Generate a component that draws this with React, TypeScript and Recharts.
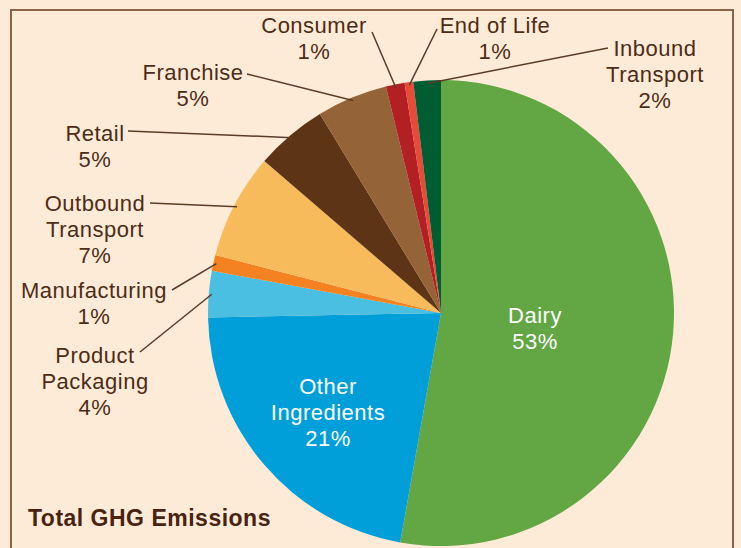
import React from "react";
import { PieChart, Pie, Cell } from "recharts";

const categories = [
  "Dairy",
  "Other Ingredients",
  "Product Packaging",
  "Manufacturing",
  "Outbound Transport",
  "Retail",
  "Franchise",
  "Consumer",
  "End of Life",
  "Inbound Transport",
];
const shares = [52.8, 21.9, 3.2, 1.1, 7.3, 5.0, 4.9, 1.3, 0.6, 1.9];
const pctLabels = ["53%", "21%", "4%", "1%", "7%", "5%", "5%", "1%", "1%", "2%"];
const labelLines: string[][] = [
  ["Dairy"],
  ["Other", "Ingredients"],
  ["Product", "Packaging"],
  ["Manufacturing"],
  ["Outbound", "Transport"],
  ["Retail"],
  ["Franchise"],
  ["Consumer"],
  ["End of Life"],
  ["Inbound", "Transport"],
];
const colors = [
  "#62a744",
  "#009fda",
  "#4bbfe2",
  "#f58220",
  "#f7bb5c",
  "#5e3416",
  "#956338",
  "#b22024",
  "#e84a3a",
  "#005c31",
];

// label layout: text centre x, first-line centre y, inside flag, leader-line start
const labelLayout = [
  { x: 535, y: 315, inside: true },
  { x: 328, y: 386, inside: true },
  { x: 95, y: 355, inside: false, lx: 140, ly: 352 },
  { x: 94, y: 290, inside: false, lx: 172, ly: 290 },
  { x: 95, y: 203, inside: false, lx: 150, ly: 203 },
  { x: 95, y: 133, inside: false, lx: 128, ly: 131 },
  { x: 193, y: 72, inside: false, lx: 247, ly: 74 },
  { x: 314, y: 25, inside: false, lx: 372, ly: 32 },
  { x: 495, y: 25, inside: false, lx: 437, ly: 29 },
  { x: 655, y: 48, inside: false, lx: 608, ly: 48 },
];

const data = categories.map((name, i) => ({ name, value: shares[i] }));

const FONT = "'Liberation Sans', Arial, sans-serif";
const RAD = Math.PI / 180;
const LINE_H = 26;

const renderLabel = (props: any) => {
  const { cx, cy, midAngle, outerRadius, index } = props;
  const lay = labelLayout[index];
  const lines = [...labelLines[index], pctLabels[index]];
  const fill = lay.inside ? "#ffffff" : "#4e2c16";
  let leader = null;
  if (!lay.inside) {
    const ex = cx + (outerRadius - 3) * Math.cos(-midAngle * RAD);
    const ey = cy + (outerRadius - 3) * Math.sin(-midAngle * RAD);
    leader = (
      <line x1={lay.lx} y1={lay.ly} x2={ex} y2={ey} stroke="#5b3b25" strokeWidth={1.5} />
    );
  }
  return (
    <g key={`lbl-${index}`}>
      {leader}
      {lines.map((t, k) => (
        <text
          key={k}
          x={lay.x}
          y={lay.y + k * LINE_H}
          textAnchor="middle"
          dominantBaseline="central"
          fill={fill}
          fontFamily={FONT}
          fontSize={22}
          letterSpacing={0.5}
        >
          {t}
        </text>
      ))}
    </g>
  );
};

export default function App() {
  return (
    <div
      style={{
        position: "absolute",
        left: 0,
        top: 0,
        width: 741,
        height: 548,
        background: "#fdebd7",
        overflow: "hidden",
      }}
    >
      <div
        style={{
          position: "absolute",
          left: 10,
          top: 9,
          width: 724,
          height: 600,
          border: "2px solid #8b6347",
          boxSizing: "border-box",
        }}
      />
      <div style={{ position: "absolute", left: 0, top: 0 }}>
        <PieChart width={741} height={548} margin={{ top: 0, right: 0, bottom: 0, left: 0 }}>
          <Pie
            data={data}
            dataKey="value"
            nameKey="name"
            cx={441}
            cy={313}
            outerRadius={233}
            startAngle={90}
            endAngle={-270}
            stroke="none"
            isAnimationActive={false}
            label={renderLabel}
            labelLine={false}
          >
            {data.map((d, i) => (
              <Cell key={d.name} fill={colors[i]} />
            ))}
          </Pie>
          <text
            x={28}
            y={518}
            dominantBaseline="central"
            fill="#4a2210"
            fontFamily={FONT}
            fontWeight="bold"
            fontSize={23}
            letterSpacing={0.5}
          >
            Total GHG Emissions
          </text>
        </PieChart>
      </div>
    </div>
  );
}
